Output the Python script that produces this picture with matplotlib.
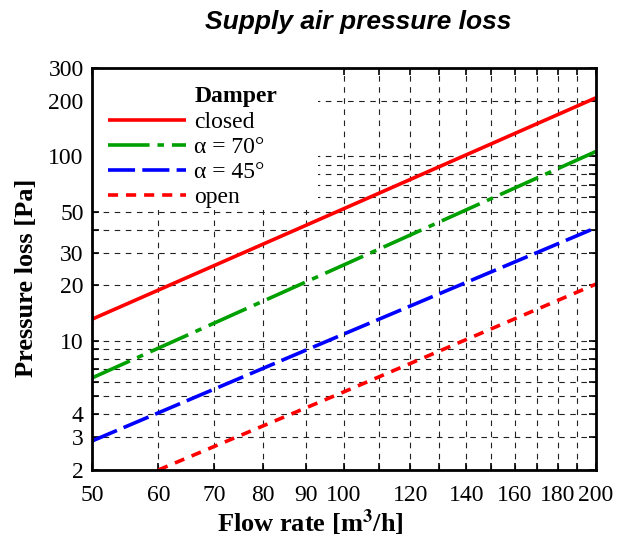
import matplotlib.pyplot as plt
from matplotlib.ticker import FixedLocator, FixedFormatter, NullLocator
from matplotlib.patches import Rectangle

# values (log-log straight lines)
flow_closed = [50, 100, 200]
dp_closed = [13.1, 52, 207]
flow_70 = [50, 100, 200]
dp_70 = [6.3, 25.8, 106]
flow_45 = [50, 100, 200]
dp_45 = [2.87, 10.9, 41]
flow_open = [60, 100, 200]
dp_open = [2.0, 5.3, 20.3]

x_ticks = list(range(50, 201, 10))
x_labels = ['50', '60', '70', '80', '90', '100', '', '120', '', '140', '', '160', '', '180', '', '200']
y_ticks = [2, 3, 4, 5, 6, 7, 8, 9, 10, 20, 30, 40, 50, 60, 70, 80, 90, 100, 200, 300]
y_label_vals = [2, 3, 4, 10, 20, 30, 50, 100, 200, 300]
y_labels = [str(v) if v in y_label_vals else '' for v in y_ticks]

plt.rcParams['font.family'] = ['Liberation Serif', 'DejaVu Serif']
plt.rcParams['mathtext.fontset'] = 'stix'

fig = plt.figure(figsize=(6.27, 5.42), dpi=100)
ax = fig.add_axes([92 / 627, 1 - 470 / 542, 504 / 627, 402 / 542])
ax.set_xscale('log')
ax.set_yscale('log')
ax.set_xlim(50, 200)
ax.set_ylim(2, 300)
ax.set_axisbelow(True)

lw = 2.6
ax.plot(flow_closed, dp_closed, color='#ff0000', lw=lw, label='closed', solid_capstyle='butt')
ax.plot(flow_70, dp_70, color='#00a000', lw=lw, dashes=(11.5, 2.2, 1.8, 2.2), label='α = 70°', dash_capstyle='butt')
ax.plot(flow_45, dp_45, color='#0000ff', lw=lw, dashes=(7.5, 2.0), label='α = 45°', dash_capstyle='butt')
ax.plot(flow_open, dp_open, color='#ff0000', lw=lw, dashes=(2.8, 2.2), label='open', dash_capstyle='butt')

# white area behind the legend hides the grid there
ax.add_patch(Rectangle((0, 0.647), 0.448, 0.353, transform=ax.transAxes,
                       facecolor='white', edgecolor='none', zorder=1.2))

ax.xaxis.set_major_locator(FixedLocator(x_ticks))
ax.xaxis.set_major_formatter(FixedFormatter(x_labels))
ax.xaxis.set_minor_locator(NullLocator())
ax.yaxis.set_major_locator(FixedLocator(y_ticks))
ax.yaxis.set_major_formatter(FixedFormatter(y_labels))
ax.yaxis.set_minor_locator(NullLocator())

ax.grid(True, color='#222222', lw=0.8, ls=(0, (5, 5)))
ax.tick_params(direction='in', length=5, width=1.2, labelsize=17, top=True, right=True)
ax.tick_params(axis='y', pad=6)
ax.tick_params(axis='x', pad=11)
for s in ax.spines.values():
    s.set_linewidth(2)

ax.set_xlabel('Flow rate [m$^\\mathbf{3}$/h]', fontsize=19, fontweight='bold')
ax.xaxis.set_label_coords(0.433, -0.092)
ax.set_ylabel('Pressure loss [Pa]', fontsize=19, fontweight='bold')
ax.yaxis.set_label_coords(-0.107, 0.478)

leg = ax.legend(loc='upper left', bbox_to_anchor=(0.018, 0.972), title='Damper', fontsize=17,
                title_fontproperties={'weight': 'bold', 'size': 17},
                handlelength=3.3, handletextpad=0.35, labelspacing=0.15,
                borderpad=0.3, borderaxespad=0, frameon=False)
leg._legend_box.align = 'left'
leg._legend_box.sep = 3
leg.get_title().set_position((86, 0))

fig.text(358 / 627, 1 - 22 / 542, 'Supply air pressure loss', ha='center', va='center',
         fontsize=19, fontweight='bold', fontstyle='italic', family='Liberation Sans')

fig.savefig('out.png', dpi=100)
